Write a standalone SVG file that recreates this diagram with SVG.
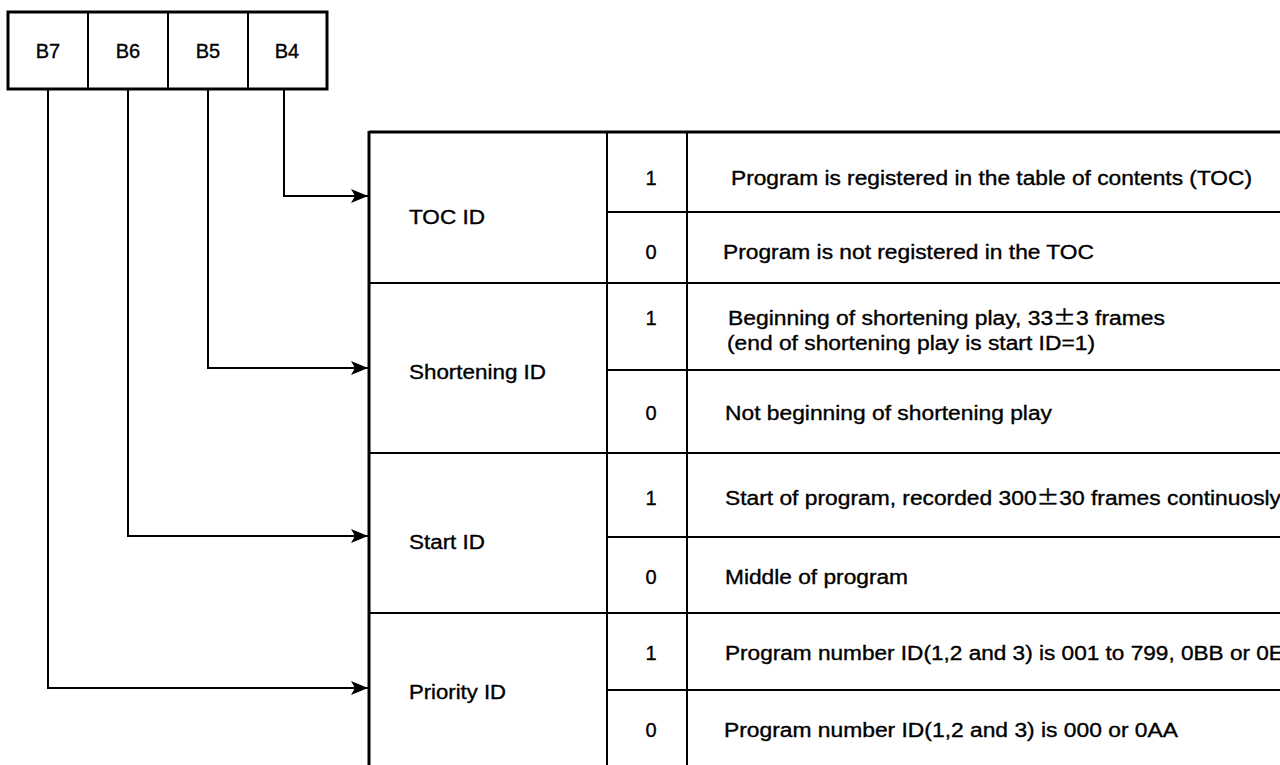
<svg xmlns="http://www.w3.org/2000/svg" width="1280" height="765" viewBox="0 0 1280 765">
  <style>
    .t { font-family: "Liberation Sans", Arial, sans-serif; font-size: 20px; fill: #000; stroke: #000; stroke-width: 0.35px; }
    .c { text-anchor: middle; }
    .pm { font-family: "Noto Sans CJK JP", "Liberation Sans", sans-serif; }
    .thick { stroke: #000; stroke-width: 3; fill: none; }
    .line { stroke: #000; stroke-width: 2; fill: none; }
    .conn { stroke: #000; stroke-width: 2; fill: none; marker-end: url(#arrow); }
  </style>
  <defs>
    <marker id="arrow" markerUnits="userSpaceOnUse" markerWidth="18" markerHeight="14" refX="17" refY="7" orient="auto">
      <path d="M0,0 L17,7 L0,14 L4,7 z" fill="#000"/>
    </marker>
  </defs>
  <rect width="1280" height="765" fill="#fff"/>

  <!-- bit field box -->
  <g id="bitbox">
    <rect x="8" y="12" width="319" height="77" class="thick"/>
    <g id="B7"><text class="t c" x="48" y="58">B7</text></g>
    <line x1="88" y1="12" x2="88" y2="89" class="line"/>
    <g id="B6"><text class="t c" x="128" y="58">B6</text></g>
    <line x1="168" y1="12" x2="168" y2="89" class="line"/>
    <g id="B5"><text class="t c" x="208" y="58">B5</text></g>
    <line x1="248" y1="12" x2="248" y2="89" class="line"/>
    <g id="B4"><text class="t c" x="287" y="58">B4</text></g>
  </g>

  <!-- table grid -->
  <g id="table-grid">
    <line x1="369" y1="132" x2="1280" y2="132" class="thick"/>
    <line x1="369" y1="131" x2="369" y2="765" class="thick"/>
    <line x1="607" y1="132" x2="607" y2="765" class="line"/>
    <line x1="687" y1="132" x2="687" y2="765" class="line"/>
    <line x1="369" y1="283" x2="1280" y2="283" class="line"/>
    <line x1="369" y1="453" x2="1280" y2="453" class="line"/>
    <line x1="369" y1="613" x2="1280" y2="613" class="line"/>
    <line x1="607" y1="212" x2="1280" y2="212" class="line"/>
    <line x1="607" y1="370" x2="1280" y2="370" class="line"/>
    <line x1="607" y1="537" x2="1280" y2="537" class="line"/>
    <line x1="607" y1="690" x2="1280" y2="690" class="line"/>
  </g>

  <g id="toc-id">
    <text class="t" x="409" y="224" textLength="76" lengthAdjust="spacingAndGlyphs">TOC ID</text>
    <text class="t c" x="651" y="185">1</text>
    <text class="t" x="731" y="185" textLength="521" lengthAdjust="spacingAndGlyphs">Program is registered in the table of contents (TOC)</text>
    <text class="t c" x="651" y="259">0</text>
    <text class="t" x="723" y="259" textLength="371" lengthAdjust="spacingAndGlyphs">Program is not registered in the TOC</text>
  </g>

  <g id="shortening-id">
    <text class="t" x="409" y="379" textLength="137" lengthAdjust="spacingAndGlyphs">Shortening ID</text>
    <text class="t c" x="651" y="325">1</text>
    <text class="t" x="728" y="325" textLength="437" lengthAdjust="spacingAndGlyphs">Beginning of shortening play, 33<tspan class="pm">±</tspan>3 frames</text>
    <text class="t" x="727" y="350" textLength="368" lengthAdjust="spacingAndGlyphs">(end of shortening play is start ID=1)</text>
    <text class="t c" x="651" y="420">0</text>
    <text class="t" x="725" y="420" textLength="327" lengthAdjust="spacingAndGlyphs">Not beginning of shortening play</text>
  </g>

  <g id="start-id">
    <text class="t" x="409" y="549" textLength="76" lengthAdjust="spacingAndGlyphs">Start ID</text>
    <text class="t c" x="651" y="505">1</text>
    <text class="t" x="725" y="505" textLength="556" lengthAdjust="spacingAndGlyphs">Start of program, recorded 300<tspan class="pm">±</tspan>30 frames continuosly</text>
    <text class="t c" x="651" y="584">0</text>
    <text class="t" x="725" y="584" textLength="183" lengthAdjust="spacingAndGlyphs">Middle of program</text>
  </g>

  <g id="priority-id">
    <text class="t" x="409" y="699" textLength="97" lengthAdjust="spacingAndGlyphs">Priority ID</text>
    <text class="t c" x="651" y="660">1</text>
    <text class="t" x="725" y="660" textLength="574" lengthAdjust="spacingAndGlyphs">Program number ID(1,2 and 3) is 001 to 799, 0BB or 0EE</text>
    <text class="t c" x="651" y="737">0</text>
    <text class="t" x="724" y="737" textLength="454" lengthAdjust="spacingAndGlyphs">Program number ID(1,2 and 3) is 000 or 0AA</text>
  </g>

  <!-- connectors -->
  <g id="connectors">
    <path d="M284,89 V196 H368" class="conn"/>
    <path d="M208,89 V368 H368" class="conn"/>
    <path d="M128,89 V536 H368" class="conn"/>
    <path d="M48,89 V688 H368" class="conn"/>
  </g>
</svg>
